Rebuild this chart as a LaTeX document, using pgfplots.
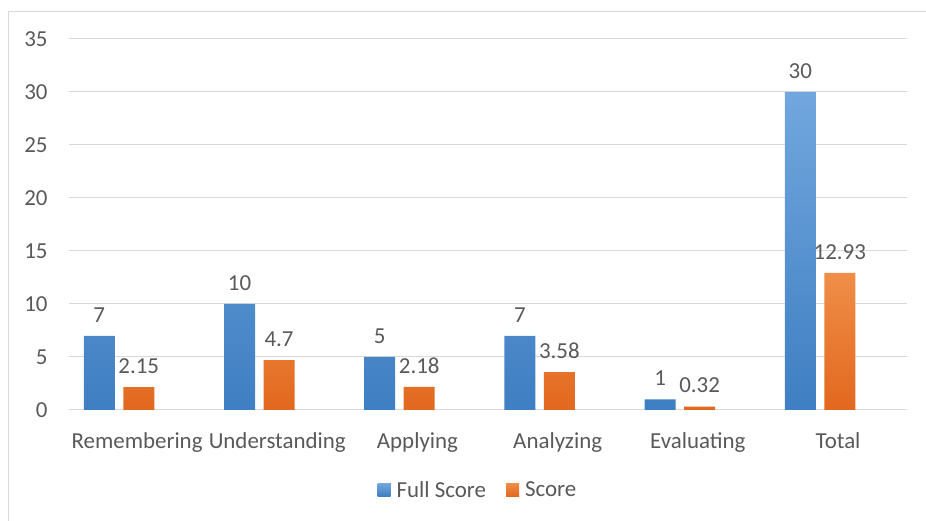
\documentclass[border=0pt]{standalone}
\usepackage{pgfplots}
\pgfplotsset{compat=1.18}
\usepackage{fontspec}
\setmainfont{Carlito}
\definecolor{txt}{HTML}{595959}
\definecolor{gridc}{HTML}{D9D9D9}
\definecolor{bluetop}{RGB}{114,167,222}
\definecolor{bluebot}{RGB}{62,126,194}
\definecolor{orgtop}{RGB}{240,142,72}
\definecolor{orgbot}{RGB}{226,104,30}
\definecolor{bluemid}{RGB}{86,145,208}
\definecolor{orgmid}{RGB}{234,122,50}
\pgfplotstableread{
x full score
0 7 2.15
1 10 4.7
2 5 2.18
3 7 3.58
4 1 0.32
5 30 12.93
}\datatable
\begin{document}
\begin{tikzpicture}
\path[use as bounding box] (0,0) rectangle (926bp,521bp);
\draw[gridc, line width=1bp] (8bp,0) -- (8bp,509bp) -- (926bp,509bp);
\begin{axis}[
  at={(119.05bp,111bp)}, anchor=origin,
  scale only axis, width=838bp, height=371bp,
  xmin=-0.357, xmax=5.62, ymin=0, ymax=35,
  ybar=8.5bp, bar width=31bp,
  ytick={0,5,...,35},
  xtick={0,1,2,3,4,5},
  xticklabels={Remembering,Understanding,Applying,Analyzing,Evaluating,Total},
  ymajorgrids, grid style={gridc, line width=1bp},
  axis line style={draw=none},
  major tick length=0pt,
  font=\fontsize{23}{27}\selectfont,
  /pgf/number format/assume math mode=true,
  tick label style={text=txt},
  yticklabel style={xshift=-18bp},
  xticklabel style={yshift=-19bp, xshift=18bp},
  nodes near coords,
  every node near coord/.append style={text=txt, yshift=10bp, font=\fontsize{23}{27}\selectfont},
  point meta=explicit symbolic,
  legend columns=2,
  legend style={draw=none, at={(0.488,-0.2156)}, anchor=center, text=txt, font=\fontsize{23}{27}\selectfont, /tikz/every even column/.append style={column sep=18bp}},
]
\addplot[draw=none, top color=bluetop, bottom color=bluebot,
  legend image code/.code={\fill[bluemid] (0,-6.5bp) rectangle (13bp,6.5bp); \path (0,0) -- (17bp,0);}]
  table[x=x, y=full, meta=full] {\datatable};
\addlegendentry{Full Score}
\addplot[draw=none, top color=orgtop, bottom color=orgbot,
  legend image code/.code={\fill[orgmid] (0,-6.5bp) rectangle (13bp,6.5bp); \path (0,0) -- (17bp,0);}]
  table[x=x, y=score, meta=score] {\datatable};
\addlegendentry{Score}
\end{axis}
\end{tikzpicture}
\end{document}
